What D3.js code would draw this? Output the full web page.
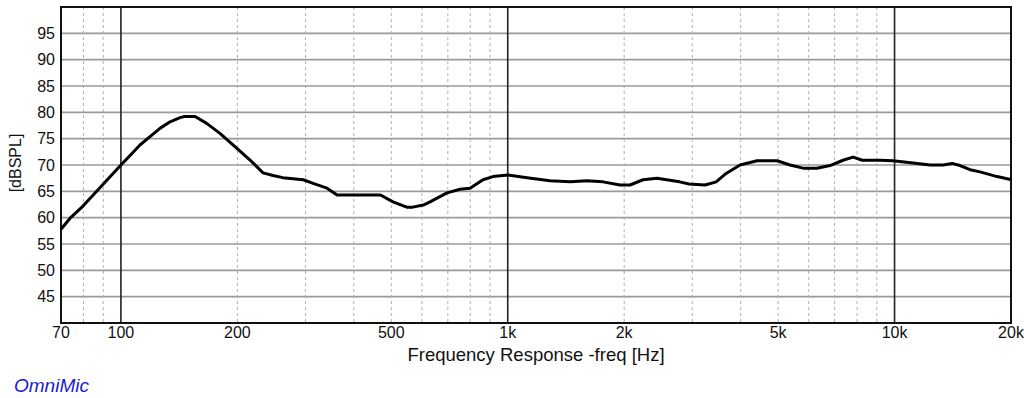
<!DOCTYPE html>
<html>
<head>
<meta charset="utf-8">
<style>
  body { margin: 0; background: #fff; }
  svg { display: block; font-family: "Liberation Sans", Arial, sans-serif; }
</style>
</head>
<body>
<svg width="1024" height="398"></svg>
<script src="https://d3js.org/d3.v7.min.js"></script>
<script>

var freqs = [70, 73.9, 79.8, 100, 105.9, 112, 118.9, 126.4, 134, 142.2, 146, 155.5, 166.6, 180.3, 199.2,
             216, 233, 247.3, 262, 296, 314, 341, 362, 469, 505, 548, 568, 605, 629.7, 696.7, 752.7, 798.7,
             863.2, 916.2, 1000, 1122, 1286, 1449, 1604, 1763, 1951, 2071, 2237, 2432, 2780, 2942, 3237,
             3458, 3669, 3986, 4411, 4969, 5368, 5800, 6298, 6811, 7357, 7812, 8252, 9190, 9911, 11163,
             12354, 13350, 14082, 14766, 15673, 16635, 18411, 19800, 20000];
var spl =   [57.8, 59.9, 62.2, 70.0, 71.9, 73.8, 75.4, 77.0, 78.2, 79.0, 79.2, 79.2, 77.9, 76.0, 73.2,
             70.9, 68.5, 68.0, 67.6, 67.2, 66.5, 65.6, 64.3, 64.3, 63.0, 62.0, 62.0, 62.4, 63.0, 64.7, 65.4, 65.6,
             67.2, 67.8, 68.1, 67.6, 67.0, 66.8, 67.0, 66.8, 66.2, 66.2, 67.2, 67.5, 66.8, 66.4, 66.2,
             66.8, 68.4, 70.0, 70.8, 70.8, 70.0, 69.4, 69.4, 69.9, 70.9, 71.5, 70.9, 70.9, 70.8, 70.4,
             70.0, 70.0, 70.3, 69.9, 69.1, 68.7, 67.8, 67.3, 67.3];

var xTickVals = [70, 100, 200, 500, 1000, 2000, 5000, 10000, 20000];
var xTickLabels = ["70", "100", "200", "500", "1k", "2k", "5k", "10k", "20k"];
var majorLines = [100, 1000, 10000];
var minorLines = [80, 90, 200, 300, 400, 500, 600, 700, 800, 900,
                  2000, 3000, 4000, 5000, 6000, 7000, 8000, 9000];
var yTicks = [45, 50, 55, 60, 65, 70, 75, 80, 85, 90, 95];

var data = freqs.map(function(f, i) { return {f: f, db: spl[i]}; });

var svg = d3.select("svg"),
    pLeft = 61, pRight = 1011, pTop = 7, pBottom = 323;

var x = d3.scaleLog().domain([70, 20000]).range([pLeft, pRight]);
var y = d3.scaleLinear().domain([40, 100]).range([pBottom, pTop]);

var g = svg.append("g");

// horizontal grid
g.selectAll(".hgrid").data(yTicks).enter().append("line")
  .attr("x1", pLeft).attr("x2", pRight)
  .attr("y1", function(d) { return y(d); }).attr("y2", function(d) { return y(d); })
  .attr("stroke", "#9a9a9a").attr("stroke-width", 1.6);

// minor dotted verticals
g.selectAll(".minor").data(minorLines).enter().append("line")
  .attr("x1", function(d) { return x(d); }).attr("x2", function(d) { return x(d); })
  .attr("y1", pTop).attr("y2", pBottom)
  .attr("stroke", "#b0b0b0").attr("stroke-width", 1)
  .attr("stroke-dasharray", "3,3");

// decade lines
g.selectAll(".major").data(majorLines).enter().append("line")
  .attr("x1", function(d) { return x(d); }).attr("x2", function(d) { return x(d); })
  .attr("y1", pTop).attr("y2", pBottom)
  .attr("stroke", "#222").attr("stroke-width", 1.6);

// frame
g.append("rect")
  .attr("x", pLeft).attr("y", pTop)
  .attr("width", pRight - pLeft).attr("height", pBottom - pTop)
  .attr("fill", "none").attr("stroke", "#111").attr("stroke-width", 2);

// x tick labels
g.selectAll(".xl").data(xTickVals).enter().append("text")
  .attr("x", function(d) { return x(d); })
  .attr("y", 338)
  .attr("text-anchor", "middle")
  .style("font-size", "16px")
  .attr("fill", "#111")
  .text(function(d, i) { return xTickLabels[i]; });

// y tick labels
g.selectAll(".yl").data(yTicks).enter().append("text")
  .attr("x", 55)
  .attr("y", function(d) { return y(d); })
  .attr("dy", "0.36em")
  .attr("text-anchor", "end")
  .style("font-size", "16px")
  .attr("fill", "#111")
  .text(function(d) { return d; });

// axis titles
svg.append("text")
  .attr("x", (pLeft + pRight) / 2).attr("y", 361)
  .attr("text-anchor", "middle")
  .style("font-size", "18.5px")
  .attr("fill", "#111")
  .text("Frequency Response -freq [Hz]");

svg.append("text")
  .attr("transform", "translate(21,163) rotate(-90)")
  .attr("text-anchor", "middle")
  .style("font-size", "16px")
  .attr("fill", "#111")
  .text("[dBSPL]");

svg.append("text")
  .attr("x", 14).attr("y", 392)
  .style("font-size", "19px")
  .style("font-style", "italic")
  .attr("fill", "#1a1ad0")
  .text("OmniMic");

// response curve
var line = d3.line()
  .x(function(d) { return x(d.f); })
  .y(function(d) { return y(d.db); });

g.append("path")
  .datum(data)
  .attr("fill", "none")
  .attr("stroke", "#000")
  .attr("stroke-width", 3)
  .attr("stroke-linejoin", "round")
  .attr("d", line);

</script>
</body>
</html>
